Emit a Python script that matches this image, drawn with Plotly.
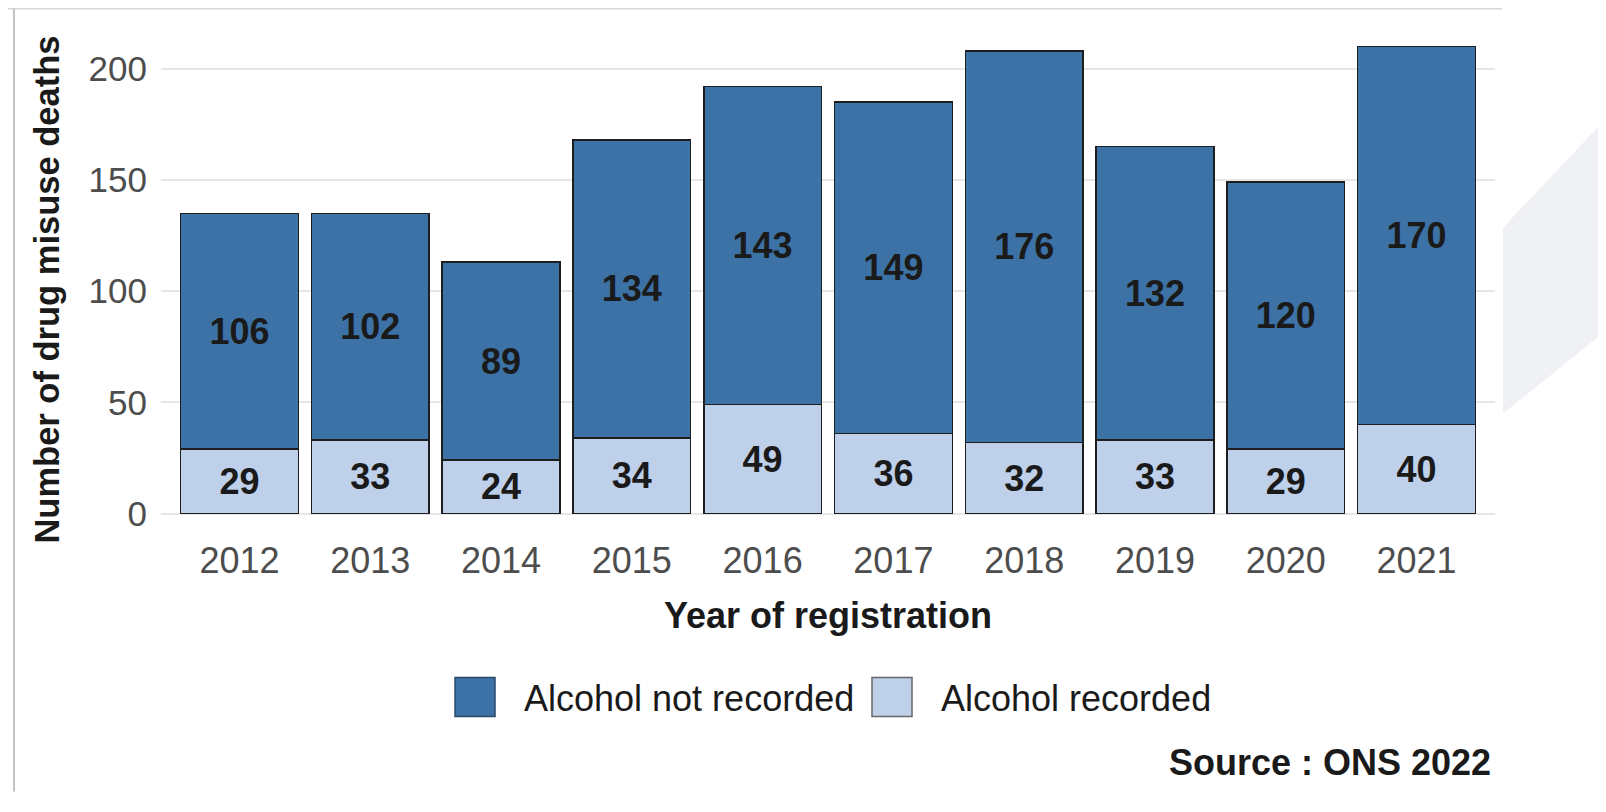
import plotly.graph_objects as go

# ---- data ----
years = ["2012", "2013", "2014", "2015", "2016", "2017", "2018", "2019", "2020", "2021"]
alcohol_recorded = [29, 33, 24, 34, 49, 36, 32, 33, 29, 40]
alcohol_not_recorded = [106, 102, 89, 134, 143, 149, 176, 132, 120, 170]
y_ticks = [0, 50, 100, 150, 200]
series_names = ["Alcohol recorded", "Alcohol not recorded"]

# ---- style ----
OFF = 8  # browser body margin
W, H = 1606 - OFF, 812 - OFF
L, R, T, B = 161 - OFF, 1495 - OFF, 23.4 - OFF, 537.4 - OFF
FONT = "Liberation Sans, Arial, sans-serif"
DARK = "#3d72a6"
LIGHT = "#bed0ea"
EDGE = "#1e1e1e"

def px(x):
    return (x - OFF - L) / (R - L)

def py(y):
    return (B - (y - OFF)) / (B - T)

fig = go.Figure()
fig.add_trace(go.Bar(
    x=years, y=alcohol_recorded, name=series_names[0],
    marker=dict(color=LIGHT, line=dict(color=EDGE, width=1.5)),
    text=alcohol_recorded, textposition="inside", insidetextanchor="middle",
    textfont=dict(family=FONT, size=36, color="#1a1a1a", weight="bold"),
    textangle=0, showlegend=False,
))
fig.add_trace(go.Bar(
    x=years, y=alcohol_not_recorded, name=series_names[1],
    marker=dict(color=DARK, line=dict(color=EDGE, width=1.5)),
    text=alcohol_not_recorded, textposition="inside", insidetextanchor="middle",
    textfont=dict(family=FONT, size=36, color="#1a1a1a", weight="bold"),
    textangle=0, showlegend=False,
))

shapes = []
annotations = []

# legend (custom, large swatches)
leg = [
    (455, 495, DARK, "#2a4a6a", series_names[1], 522),
    (872, 912, LIGHT, "#666666", series_names[0], 939),
]
for x0, x1, fill, line, name, tx in leg:
    shapes.append(dict(type="rect", xref="paper", yref="paper",
                       x0=px(x0), x1=px(x1), y0=py(717), y1=py(678),
                       fillcolor=fill, line=dict(color=line, width=1.5), layer="above"))
    annotations.append(dict(xref="paper", yref="paper", x=px(tx), y=py(699),
                            xanchor="left", yanchor="middle", showarrow=False,
                            text=name, font=dict(family=FONT, size=36, color="#1a1a1a")))

# source note
annotations.append(dict(xref="paper", yref="paper", x=px(1493), y=py(763),
                        xanchor="right", yanchor="middle", showarrow=False,
                        text="<b>Source : ONS 2022</b>",
                        font=dict(family=FONT, size=36, color="#1a1a1a")))

# frame lines and faint watermark
shapes += [
    dict(type="line", xref="paper", yref="paper", x0=px(8), x1=px(1502), y0=py(9), y1=py(9),
         line=dict(color="#d6d6d6", width=2), layer="below"),
    dict(type="line", xref="paper", yref="paper", x0=px(14), x1=px(14), y0=py(9), y1=py(792),
         line=dict(color="#c4c4c4", width=2), layer="below"),
    dict(type="path", xref="paper", yref="paper", layer="below",
         path=f"M {px(1503)},{py(228)} L {px(1606)},{py(119)} L {px(1606)},{py(331)} L {px(1503)},{py(414)} Z",
         fillcolor="#f0f1f5", line=dict(width=0)),
]

fig.update_layout(
    width=W, height=H,
    margin=dict(l=L, r=W - R, t=T, b=H - B, autoexpand=False),
    barmode="stack", bargap=0.1,
    plot_bgcolor="white", paper_bgcolor="white",
    font=dict(family=FONT, color="#1a1a1a"),
    shapes=shapes, annotations=annotations,
)
fig.update_xaxes(
    type="category", range=[-0.6, 9.6], showgrid=False, zeroline=False, showline=False,
    ticks="", ticklabelstandoff=-1,
    tickfont=dict(family=FONT, size=36, color="#4d4d4d"),
    title=dict(text="<b>Year of registration</b>", standoff=22,
               font=dict(family=FONT, size=36, color="#1a1a1a")),
)
fig.update_yaxes(
    range=[-10.5, 220.5], tickvals=y_ticks, showgrid=True, gridcolor="#e6e6e6", gridwidth=1.5,
    zeroline=False, showline=False,
    ticks="outside", ticklen=6, tickcolor="rgba(0,0,0,0)",
    tickfont=dict(family=FONT, size=35, color="#4d4d4d"),
    title=dict(text="<b>Number of drug misuse deaths<span style='color:rgba(0,0,0,0)'>_</span></b>",
               standoff=18, font=dict(family=FONT, size=34.5, color="#1a1a1a")),
)

fig.write_html("out.html")
